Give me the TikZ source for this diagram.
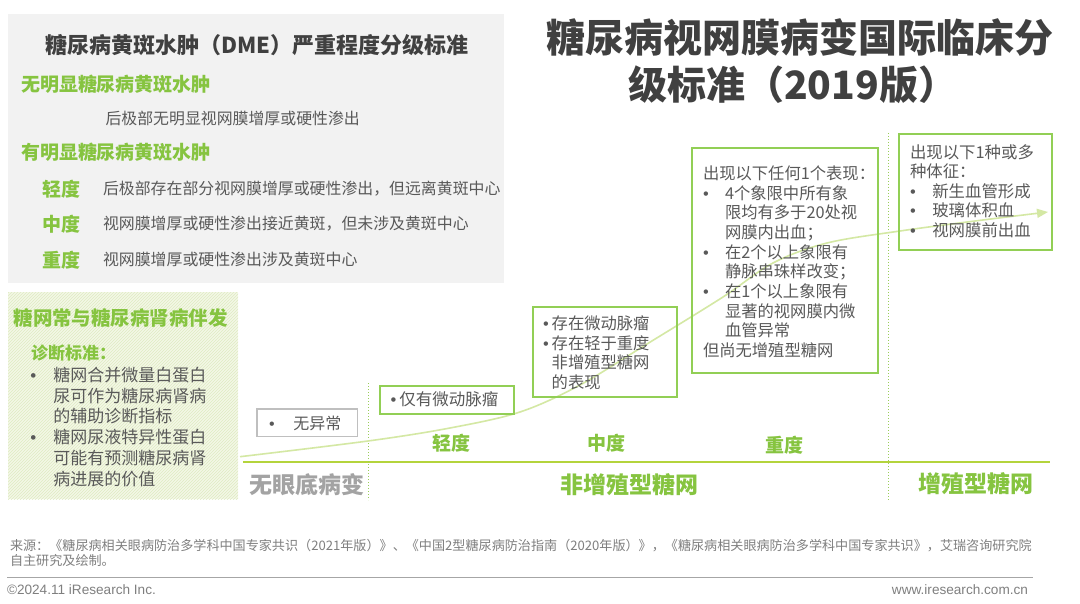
\documentclass[tikz,border=0pt]{standalone}
\usepackage{fontspec}
\setmainfont{Noto Sans CJK SC}
\newfontfamily\latfont{Liberation Sans}
\usetikzlibrary{arrows.meta,patterns}
\definecolor{panelgray}{HTML}{F2F2F2}
\definecolor{titlegray}{HTML}{404040}
\definecolor{bodygray}{HTML}{595959}
\definecolor{leaf}{HTML}{86C440}
\definecolor{boxgreen}{HTML}{92CF55}
\definecolor{axisgreen}{HTML}{B4D43C}
\definecolor{curvegreen}{HTML}{D4E8A4}
\definecolor{dotgreen}{HTML}{9ACD5A}
\definecolor{softgray}{HTML}{A3A3A3}
\definecolor{framegray}{HTML}{BFBFBF}
\definecolor{footgray}{HTML}{7F7F7F}
\definecolor{rulegray}{HTML}{A6A6A6}
\definecolor{hatchbg}{HTML}{F3F7E6}
\definecolor{hatchln}{HTML}{DFEBC2}
\newcommand{\fsz}[2]{\fontsize{#1pt}{#2pt}\selectfont}
\newcommand{\bul}[1]{\makebox[#1pt][l]{\latfont •}}
\begin{document}
\begin{tikzpicture}[x=1pt,y=-1pt,
  txt/.style={inner sep=0pt, outer sep=0pt},
  headtxt/.style={txt, anchor=base west, font=\fsz{19}{23}\bfseries, text=leaf},
  desctxt/.style={txt, anchor=base west, font=\fsz{15.9}{19}, text=bodygray},
  gradelbl/.style={txt, anchor=base, font=\fsz{19}{23}\bfseries, text=leaf},
  stagelbl/.style={txt, anchor=base, font=\fsz{23}{27}\bfseries, text=leaf},
  gframe/.style={draw=boxgreen, line width=1.6pt, inner sep=0pt, anchor=north west},
  grayframe/.style={draw=framegray, line width=1.6pt, inner sep=0pt, anchor=north west},
  boxtxt/.style={txt, anchor=north west, align=left, text=bodygray},
  sepline/.style={dotgreen, line width=1pt, dotted},
]
\fill[white] (0,0) rectangle (1080,604);
\useasboundingbox (0,0) rectangle (1080,604);

% panels
\node[fill=panelgray, minimum width=496pt, minimum height=269pt, anchor=north west, inner sep=0pt] (dmepanel) at (8,14) {};
\node[fill=hatchbg, postaction={pattern=north east lines, pattern color=hatchln}, minimum width=230pt, minimum height=207pt, anchor=north west, inner sep=0pt] (renalpanel) at (8,292) {};

% main title
\node[txt, anchor=base, font=\fsz{39}{47}\bfseries, text=titlegray] (mainA) at (800,52.3) {糖尿病视网膜病变国际临床分};
\node[txt, anchor=base west, font=\fsz{39}{47}\bfseries, text=titlegray] (mainB) at (628,99.3) {级标准（2019版）};

% DME panel
\node[txt, anchor=base, font=\fsz{22}{26}\bfseries, text=titlegray] (dmetitle) at (257,53.4) {糖尿病黄斑水肿（DME）严重程度分级标准};
\node[headtxt] (nodme) at (21,91.9) {无明显糖尿病黄斑水肿};
\node[desctxt] (nodmetext) at (105.5,125) {后极部无明显视网膜增厚或硬性渗出};
\node[headtxt] (hasdme) at (21,159.5) {有明显糖尿病黄斑水肿};
\node[headtxt] (dmemild) at (42,196.2) {轻度};
\node[desctxt] (dmemildtext) at (103,195) {后极部存在部分视网膜增厚或硬性渗出，但远离黄斑中心};
\node[headtxt] (dmemod) at (42,231.2) {中度};
\node[desctxt] (dmemodtext) at (103,230) {视网膜增厚或硬性渗出接近黄斑，但未涉及黄斑中心};
\node[headtxt] (dmesev) at (42,267.2) {重度};
\node[desctxt] (dmesevtext) at (103,266) {视网膜增厚或硬性渗出涉及黄斑中心};

% renal panel
\node[txt, anchor=base west, font=\fsz{19.5}{23}\bfseries, text=leaf] (renaltitle) at (13.5,325.7) {糖网常与糖尿病肾病伴发};
\node[txt, anchor=base west, font=\fsz{17}{20}\bfseries, text=leaf] (renalsub) at (31,359.8) {诊断标准：};
\node[boxtxt, font=\fsz{17}{20.7}] (renaltext) at (30.5,367.2) {\bul{22.8}糖网合并微量白蛋白\\\hspace*{22.8pt}尿可作为糖尿病肾病\\\hspace*{22.8pt}的辅助诊断指标\\\bul{22.8}糖网尿液特异性蛋白\\\hspace*{22.8pt}可能有预测糖尿病肾\\\hspace*{22.8pt}病进展的价值};

% timeline
\coordinate (axisL) at (243,462);
\coordinate (axisR) at (1050,462);
\draw[axisgreen, line width=2pt] (axisL) -- (axisR);
\coordinate (sepAtop) at (368,383);
\coordinate (sepAbot) at (368,500);
\coordinate (sepBtop) at (888,133);
\coordinate (sepBbot) at (888,500);
\draw[sepline] (sepAtop) -- (sepAbot);
\draw[sepline] (sepBtop) -- (sepBbot);

% progression curve
\coordinate (cvS) at (240,456.7);
\coordinate (cvE) at (1048,212);
\draw[curvegreen, line width=1.6pt, -{Triangle[length=11pt,width=9pt]}] plot[smooth, tension=0.55] coordinates {(cvS) (368,441) (450,428) (520,412) (580,385) (647,344) (723,297) (773,263) (827,243) (900,231) (975,221) (cvE)};

% stage boxes
\node[grayframe, minimum width=100.5pt, minimum height=27.5pt] (noneBox) at (256,408) {};
\node[txt, anchor=base west, font=\fsz{16}{19}, text=bodygray] (noneText) at (269,429.4) {\bul{24.3}无异常};

\node[gframe, minimum width=134pt, minimum height=28pt] (mildBox) at (379,385) {};
\node[txt, anchor=base west, font=\fsz{16.5}{19}, text=bodygray] (mildText) at (390.5,405.6) {\bul{8.8}仅有微动脉瘤};

\node[gframe, minimum width=144pt, minimum height=90pt] (modBox) at (532,306) {};
\node[boxtxt, font=\fsz{16.3}{19.5}] (modText) at (543.2,315.8) {\bul{8.5}存在微动脉瘤\\\bul{8.5}存在轻于重度\\\hspace*{8.5pt}非增殖型糖网\\\hspace*{8.5pt}的表现};

\node[gframe, minimum width=186pt, minimum height=225pt] (sevBox) at (691,147) {};
\node[boxtxt, font=\fsz{16.3}{19.67}] (sevText) at (703,165.8) {出现以下任何1个表现：\\\bul{22}4个象限中所有象\\\hspace*{22pt}限均有多于20处视\\\hspace*{22pt}网膜内出血；\\\bul{22}在2个以上象限有\\\hspace*{22pt}静脉串珠样改变；\\\bul{22}在1个以上象限有\\\hspace*{22pt}显著的视网膜内微\\\hspace*{22pt}血管异常\\但尚无增殖型糖网};

\node[gframe, minimum width=153pt, minimum height=116pt] (proBox) at (898,133) {};
\node[boxtxt, font=\fsz{16.4}{19.6}] (proText) at (910,144.2) {出现以下1种或多\\种体征：\\\bul{22.3}新生血管形成\\\bul{22.3}玻璃体积血\\\bul{22.3}视网膜前出血};

% axis labels
\node[gradelbl] (lblMild) at (451.5,450.2) {轻度};
\node[gradelbl] (lblMod) at (606,450.2) {中度};
\node[gradelbl] (lblSev) at (784,452.2) {重度};
\node[stagelbl, text=softgray] (lblNone) at (306.5,493.7) {无眼底病变};
\node[stagelbl] (lblNPDR) at (629,493.7) {非增殖型糖网};
\node[stagelbl] (lblPDR) at (976,492.7) {增殖型糖网};

% footer
\node[txt, anchor=base west, font=\fsz{13.1}{15}, text=footgray] (src1) at (10,550.3) {来源：《糖尿病相关眼病防治多学科中国专家共识（2021年版）》、《中国2型糖尿病防治指南（2020年版）》，《糖尿病相关眼病防治多学科中国专家共识》，艾瑞咨询研究院};
\node[txt, anchor=base west, font=\fsz{13.1}{15}, text=footgray] (src2) at (10,565.3) {自主研究及绘制。};
\coordinate (ruleL) at (7,577);
\coordinate (ruleR) at (1033,577);
\draw[rulegray, line width=1pt] (ruleL) -- (ruleR);
\node[txt, anchor=base west, font=\latfont\fsz{13.6}{15}, text=footgray] (copy) at (7,594.9) {©2024.11 iResearch Inc.};
\node[txt, anchor=base east, font=\latfont\fsz{13.6}{15}, text=footgray] (web) at (1028,594.9) {www.iresearch.com.cn};
\end{tikzpicture}
\end{document}
